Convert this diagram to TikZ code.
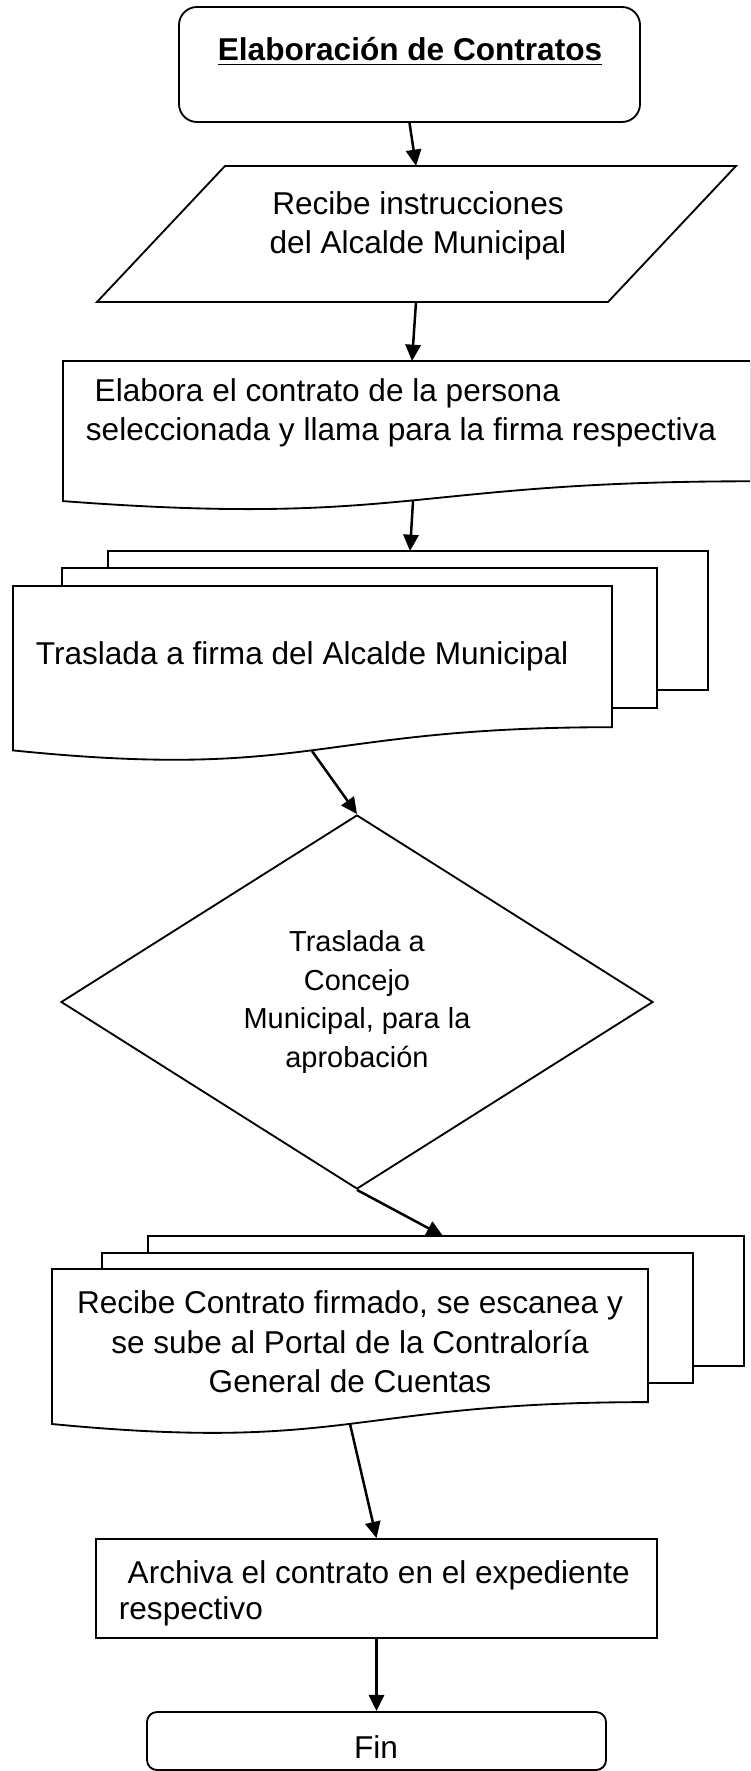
\documentclass[tikz,border=0pt]{standalone}
\usepackage{fontspec}
\setmainfont{Liberation Sans}
\usepackage{tikz}
\usetikzlibrary{shapes,arrows.meta}
\newdimen\PX
\PX=0.38pt

\begin{document}
\begin{tikzpicture}[x=0.38pt,y=-0.38pt,line width=0.7pt,
  txt/.style={inner sep=0pt,font=\fontsize{12}{15}\selectfont},
  sheet/.style={draw,fill=white},
  flow/.style={-{Triangle[length=6.2pt,width=5.8pt]},line width=0.95pt}]
\useasboundingbox (0,0) rectangle (750,1771);
\clip (0,0) rectangle (750,1771);
\node[draw,rounded corners=18\PX,minimum width=461\PX,minimum height=115\PX] (inicio) at (409.5,64.5) {};
\node[txt,font=\fontsize{12}{15}\selectfont\bfseries] (titulo) at (410,52) {\underline{Elaboración de Contratos}};
\draw (225,166) -- (736,166) -- (608,302) -- (97,302) -- cycle;
\coordinate (instN) at (416,166);
\coordinate (instS) at (416,302);
\node[txt,align=center] (instr) at (418,226) {Recibe instrucciones\\del Alcalde Municipal};
\draw (63,361) -- (751,361) -- (751,481.3) .. controls (407,481.3) and (407,527.1) .. (63,501.1) -- cycle;
\coordinate (elabN) at (412,361);
\coordinate (elabS) at (413,501);
\node[txt,align=left,anchor=west] (elab) at (85,413) {~Elabora el contrato de la persona\\seleccionada y llama para la firma respectiva};
\draw[sheet] (108,551) rectangle (708,690);
\draw[sheet] (62,568) rectangle (657,708);
\draw[sheet] (13,586) -- (612,586) -- (612,727.2) .. controls (312.5,727.2) and (312.5,780.9) .. (13,750.4) -- cycle;
\coordinate (firmaN) at (410,551);
\coordinate (firmaS) at (312,751);
\node[txt,anchor=west] (firma) at (35,656) {Traslada a firma del Alcalde Municipal};
\node[draw,diamond,aspect=1.58,minimum width=592\PX,minimum height=374\PX,inner sep=0pt,align=center,font=\fontsize{11}{14.7}\selectfont] (concejo) at (357,1002) {Traslada a\\Concejo\\Municipal, para la\\aprobación};
\draw[sheet] (148,1236) rectangle (744,1366);
\draw[sheet] (102,1253) rectangle (693,1383);
\draw[sheet] (52,1269) -- (648,1269) -- (648,1402.1) .. controls (350,1402.1) and (350,1452.8) .. (52,1424) -- cycle;
\coordinate (portalN) at (443,1236);
\coordinate (portalS) at (350,1424);
\node[txt,align=center] (portal) at (350,1342) {Recibe Contrato firmado, se escanea y\\se sube al Portal de la Contraloría\\General de Cuentas};
\node[draw,minimum width=561\PX,minimum height=99\PX] (archivo) at (376.5,1588.5) {};
\node[txt,align=left,anchor=west,font=\fontsize{12}{13.8}\selectfont] (archtxt) at (118,1593) {~Archiva el contrato en el expediente\\respectivo};
\node[draw,rounded corners=10\PX,minimum width=459\PX,minimum height=58\PX] (fin) at (376.5,1741) {};
\node[txt] (fintxt) at (376,1747) {Fin};
\draw[flow] (inicio.south) -- (instN);
\draw[flow] (instS) -- (elabN);
\draw[flow] (elabS) -- (firmaN);
\draw[flow] (firmaS) -- (concejo.north);
\draw[flow] (concejo.south) -- (portalN);
\draw[flow] (portalS) -- (archivo.north);
\draw[flow] (archivo.south) -- (fin.north);
\end{tikzpicture}
\end{document}
